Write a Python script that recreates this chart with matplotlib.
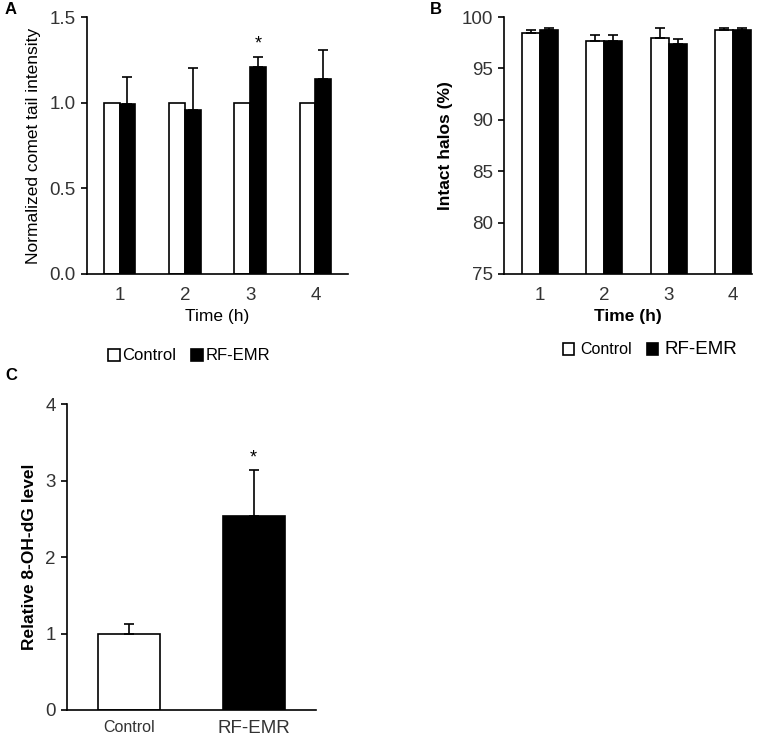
import matplotlib
matplotlib.use("Agg")
import matplotlib.pyplot as plt
from matplotlib.patches import Patch
import numpy as np

plt.rcParams['font.family'] = ['Liberation Sans', 'DejaVu Sans']

# Panel A: normalized comet tail intensity
hours = [1, 2, 3, 4]
a_control = [1.0, 1.0, 1.0, 1.0]
a_rf = [0.99, 0.96, 1.21, 1.14]
a_rf_err = [0.16, 0.24, 0.055, 0.165]

# Panel B: intact halos (%)
b_control = [98.4, 97.7, 98.0, 98.7]
b_control_err = [0.3, 0.58, 0.94, 0.26]
b_rf = [98.7, 97.7, 97.4, 98.7]
b_rf_err = [0.26, 0.58, 0.48, 0.26]

# Panel C: relative 8-OH-dG level
c_groups = ['Control', 'RF-EMR']
c_values = [1.0, 2.54]
c_err = [0.12, 0.6]

W, H = 767, 739
fig = plt.figure(figsize=(W / 100, H / 100), dpi=100)


def px_axes(left, top, right, bottom):
    return fig.add_axes([left / W, 1 - bottom / H, (right - left) / W, (bottom - top) / H])


def style(ax):
    for s in ['top', 'right']:
        ax.spines[s].set_visible(False)
    for s in ['left', 'bottom']:
        ax.spines[s].set_linewidth(1.2)
    ax.tick_params(axis='y', direction='out', length=4, width=1.2, labelsize=13.5,
                   labelcolor='#333333', pad=4)
    ax.tick_params(axis='x', length=0, labelsize=13.5, pad=9, labelcolor='#333333')


err_kw = dict(ecolor='black', elinewidth=1.2, capsize=3.5, capthick=1.2)

# ---- A ----
ax = px_axes(87, 17, 348, 274)
x = np.array(hours)
w = 0.24
zeros = [0] * 4
ax.bar(x - w / 2, a_control, w, color='white', edgecolor='black', linewidth=1.2)
ax.bar(x + w / 2, a_rf, w, color='black', edgecolor='black', linewidth=1.2,
       yerr=[zeros, a_rf_err], error_kw=err_kw)
ax.text(3 + w / 2, a_rf[2] + a_rf_err[2] + 0.03, '*', ha='center', va='bottom', fontsize=13)
ax.set_xlim(0.5, 4.5)
ax.set_ylim(0, 1.5)
ax.set_yticks([0, 0.5, 1.0, 1.5])
ax.set_yticklabels(['0.0', '0.5', '1.0', '1.5'])
ax.set_xticks(hours)
ax.set_ylabel('Normalized comet tail intensity', fontsize=12.5, labelpad=6)
ax.set_xlabel('Time (h)', fontsize=12.5, labelpad=4)
style(ax)

handles = [Patch(facecolor='white', edgecolor='black', linewidth=1.2, label='Control'),
           Patch(facecolor='black', edgecolor='black', linewidth=1.2, label='RF-EMR')]
fig.legend(handles=handles, loc='center', bbox_to_anchor=(189 / W, 1 - 356 / H), ncol=2,
           frameon=False, fontsize=12, handlelength=0.7, handleheight=0.7,
           handletextpad=0.15, columnspacing=0.9)

# ---- B ----
ax = px_axes(504, 17, 752, 274)
w = 0.28
ax.bar(x - w / 2, b_control, w, color='white', edgecolor='black', linewidth=1.2,
       yerr=[zeros, b_control_err], error_kw=err_kw)
ax.bar(x + w / 2, b_rf, w, color='black', edgecolor='black', linewidth=1.2,
       yerr=[zeros, b_rf_err], error_kw=err_kw)
ax.set_xlim(0.44, 4.295)
ax.set_ylim(75, 100)
ax.set_yticks([75, 80, 85, 90, 95, 100])
ax.set_xticks(hours)
ax.set_ylabel('Intact halos (%)', fontsize=12.5, fontweight='bold', labelpad=6)
ax.set_xlabel('Time (h)', fontsize=12.5, fontweight='bold', labelpad=4)
style(ax)

leg = fig.legend(handles=handles, loc='center', bbox_to_anchor=(650 / W, 1 - 350 / H), ncol=2,
                 frameon=False, fontsize=11.5, handlelength=0.7, handleheight=0.7,
                 handletextpad=0.4, columnspacing=0.9)
leg.get_texts()[1].set_fontsize(13.5)

# ---- C ----
ax = px_axes(66.7, 404.3, 316, 710)
xc = np.arange(len(c_groups))
ax.bar(xc, c_values, 0.5, color=['white', 'black'], edgecolor='black', linewidth=1.2,
       yerr=[[0, 0], c_err], error_kw=err_kw)
ax.text(1, c_values[1] + c_err[1] + 0.04, '*', ha='center', va='bottom', fontsize=13)
ax.set_xlim(-0.5, 1.5)
ax.set_ylim(0, 4)
ax.set_yticks([0, 1, 2, 3, 4])
ax.set_xticks(xc)
ax.set_xticklabels(c_groups)
ax.set_ylabel('Relative 8-OH-dG level', fontsize=12.5, fontweight='bold', labelpad=6)
style(ax)
ax.tick_params(axis='x', pad=7)
ax.get_xticklabels()[0].set_fontsize(11.5)
ax.get_xticklabels()[1].set_fontsize(13.5)

# panel letters
fig.text(5 / W, 1 - 10 / H, 'A', fontsize=12, fontweight='bold', va='center')
fig.text(430 / W, 1 - 10 / H, 'B', fontsize=12, fontweight='bold', va='center')
fig.text(5 / W, 1 - 375 / H, 'C', fontsize=12, fontweight='bold', va='center')

fig.savefig('out.png', dpi=100, facecolor='white')
